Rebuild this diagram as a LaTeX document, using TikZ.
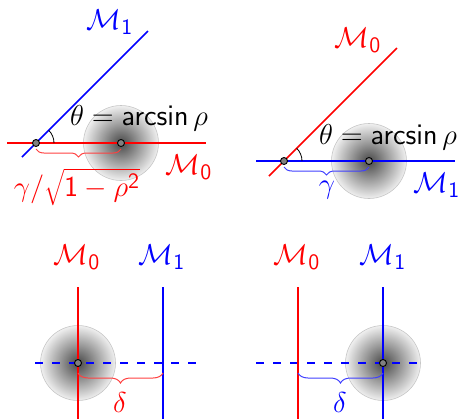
\documentclass[tikz,border=0pt]{standalone}
\usetikzlibrary{decorations.pathreplacing}
\pgfdeclareradialshading{blobshade}{\pgfpoint{0bp}{0bp}}{color(0bp)=(black!72); color(12bp)=(black!40); color(25bp)=(black!6); color(50bp)=(white)}
\tikzset{
  lbl/.style={font=\fontsize{15}{18}\selectfont, inner sep=0pt},
  ln/.style={line width=0.75pt},
  dot/.style={circle, draw=black, fill=gray, line width=0.45pt, minimum size=3.5pt, inner sep=0pt},
  blob/.style={shading=blobshade},
  rim/.style={draw=gray!45, line width=0.3pt},
  brc/.style={decorate, decoration={brace, mirror, amplitude=4pt}, line width=0.5pt},
  dsh/.style={dash pattern=on 4pt off 4.5pt}
}
\newcommand{\Mz}{$\mathcal{M}_{\mathsf{0}}$}
\newcommand{\Mo}{$\mathcal{M}_{\mathsf{1}}$}
\newcommand{\thlab}{$\theta = \mathop{\mathsf{arcsin}}\nolimits\rho$}
\begin{document}
\begin{tikzpicture}[x=0.5pt, y=-0.5pt]
\useasboundingbox (0,0) rectangle (461,419);
% ---------- top left ----------
\coordinate (A1) at (36,143);
\coordinate (C1) at (121,143);
\shade[blob] (C1) circle (37.5);
\draw[rim] (C1) circle (37.5);
\coordinate (r1s) at (7,143);
\coordinate (r1e) at (206,143);
\coordinate (b1s) at (22,157);
\coordinate (b1e) at (148,31);
\draw[ln, red] (r1s) -- (r1e);
\draw[ln, blue] (b1s) -- (b1e);
\draw[line width=0.4pt] ([xshift=9pt]A1) arc[start angle=0, end angle=45, radius=9pt];
\coordinate (br1s) at (36,149);
\coordinate (br1e) at (121,149);
\draw[brc, red!75] (br1s) -- (br1e);
\node[dot] (d1a) at (A1) {};
\node[dot] (d1c) at (C1) {};
\node[lbl, blue] (m1a) at (110,22) {\Mo};
\node[lbl] (th1) at (139,118) {\thlab};
\node[lbl, red] (m0a) at (189,167) {\Mz};
\node[lbl, red] (g1) at (77,187) {$\gamma/\sqrt{\mathsf{1}-\rho^{\mathsf{2}}}$};
% ---------- top right ----------
\coordinate (A2) at (284,161);
\coordinate (C2) at (369,161);
\shade[blob] (C2) circle (37.5);
\draw[rim] (C2) circle (37.5);
\coordinate (b2s) at (256,161);
\coordinate (b2e) at (455,161);
\coordinate (r2s) at (269,176);
\coordinate (r2e) at (397,48);
\draw[ln, blue] (b2s) -- (b2e);
\draw[ln, red] (r2s) -- (r2e);
\draw[line width=0.4pt] ([xshift=9pt]A2) arc[start angle=0, end angle=45, radius=9pt];
\coordinate (br2s) at (284,167);
\coordinate (br2e) at (369,167);
\draw[brc, blue!75] (br2s) -- (br2e);
\node[dot] (d2a) at (A2) {};
\node[dot] (d2c) at (C2) {};
\node[lbl, red] (m0b) at (358,40) {\Mz};
\node[lbl] (th2) at (388,137) {\thlab};
\node[lbl, blue] (m1b) at (437,185) {\Mo};
\node[lbl, blue] (g2) at (327,190) {$\gamma$};
% ---------- bottom left ----------
\coordinate (C3) at (78,363);
\shade[blob] (C3) circle (37.5);
\draw[rim] (C3) circle (37.5);
\coordinate (h3s) at (35,363);
\coordinate (h3e) at (203,363);
\draw[ln, blue, dsh] (h3s) -- (h3e);
\coordinate (r3s) at (78,287);
\coordinate (r3e) at (78,419);
\coordinate (b3s) at (163,287);
\coordinate (b3e) at (163,419);
\draw[ln, red] (r3s) -- (r3e);
\draw[ln, blue] (b3s) -- (b3e);
\coordinate (br3s) at (78,373);
\coordinate (br3e) at (163,373);
\draw[brc, red!75, decoration={amplitude=5pt}] (br3s) -- (br3e);
\node[dot] (d3c) at (C3) {};
\node[lbl, red] (m0c) at (77,257) {\Mz};
\node[lbl, blue] (m1c) at (162,257) {\Mo};
\node[lbl, red] (dl3) at (120,402) {$\delta$};
% ---------- bottom right ----------
\coordinate (C4) at (383,363);
\shade[blob] (C4) circle (37.5);
\draw[rim] (C4) circle (37.5);
\coordinate (h4s) at (256,363);
\coordinate (h4e) at (423,363);
\draw[ln, blue, dsh] (h4s) -- (h4e);
\coordinate (r4s) at (298,287);
\coordinate (r4e) at (298,419);
\coordinate (b4s) at (383,287);
\coordinate (b4e) at (383,419);
\draw[ln, red] (r4s) -- (r4e);
\draw[ln, blue] (b4s) -- (b4e);
\coordinate (br4s) at (298,373);
\coordinate (br4e) at (383,373);
\draw[brc, blue!75, decoration={amplitude=5pt}] (br4s) -- (br4e);
\node[dot] (d4c) at (C4) {};
\node[lbl, red] (m0d) at (297,257) {\Mz};
\node[lbl, blue] (m1d) at (383,257) {\Mo};
\node[lbl, blue] (dl4) at (340,402) {$\delta$};
\end{tikzpicture}
\end{document}
